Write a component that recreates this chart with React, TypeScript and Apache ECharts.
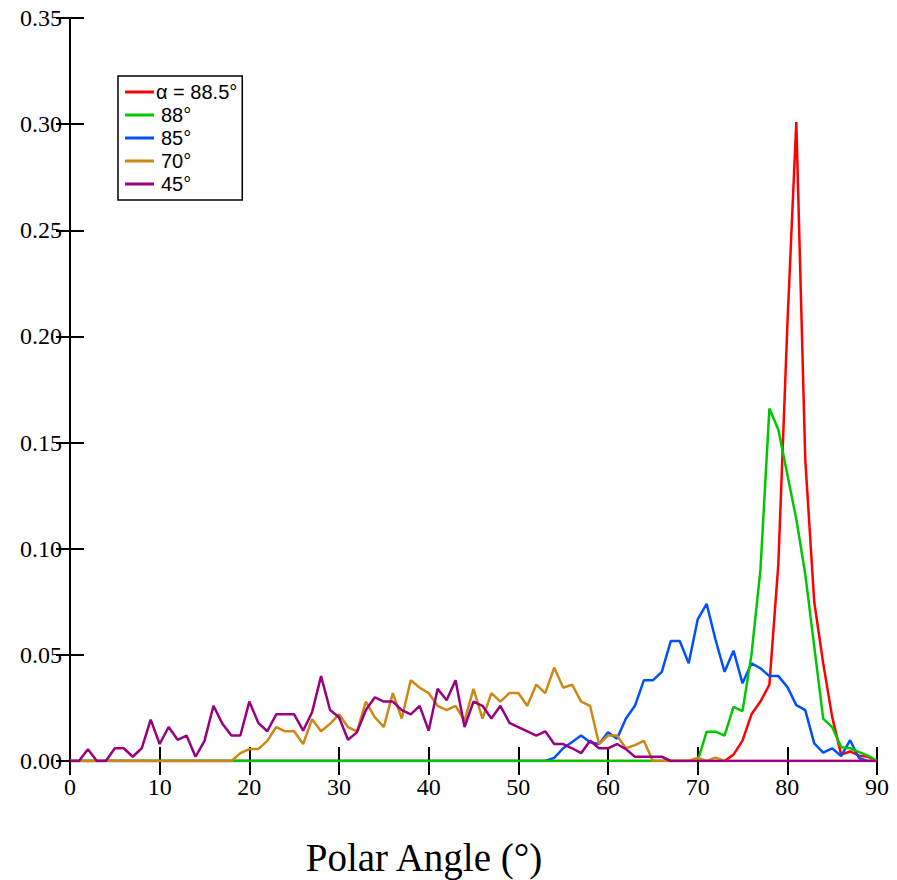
import React, { useEffect, useRef } from "react";
import * as echarts from "echarts";

const angles = [
  0, 1, 2, 3, 4, 5, 6, 7, 8, 9, 10, 11, 12, 13, 14, 15, 16, 17, 18, 19,
  20, 21, 22, 23, 24, 25, 26, 27, 28, 29, 30, 31, 32, 33, 34, 35, 36, 37, 38, 39,
  40, 41, 42, 43, 44, 45, 46, 47, 48, 49, 50, 51, 52, 53, 54, 55, 56, 57, 58, 59,
  60, 61, 62, 63, 64, 65, 66, 67, 68, 69, 70, 71, 72, 73, 74, 75, 76, 77, 78, 79,
  80, 81, 82, 83, 84, 85, 86, 87, 88, 89, 90,
];

const seriesNames = ["α = 88.5°", "88°", "85°", "70°", "45°"];
const seriesColors = ["#ff0000", "#00c800", "#0050ff", "#cc8814", "#990080"];

// alpha = 88.5
const red = [
  0, 0, 0, 0, 0, 0, 0, 0, 0, 0, 0, 0, 0, 0, 0, 0, 0, 0, 0, 0,
  0, 0, 0, 0, 0, 0, 0, 0, 0, 0, 0, 0, 0, 0, 0, 0, 0, 0, 0, 0,
  0, 0, 0, 0, 0, 0, 0, 0, 0, 0, 0, 0, 0, 0, 0, 0, 0, 0, 0, 0,
  0, 0, 0, 0, 0, 0, 0, 0, 0, 0, 0, 0, 0, 0, 0.003, 0.0096, 0.022, 0.028, 0.036, 0.093,
  0.205, 0.301, 0.142, 0.075, 0.046, 0.0208, 0.003, 0.0045, 0.0025, 0.002, 0,
];

// 88
const green = [
  0, 0, 0, 0, 0, 0, 0, 0, 0, 0, 0, 0, 0, 0, 0, 0, 0, 0, 0, 0,
  0, 0, 0, 0, 0, 0, 0, 0, 0, 0, 0, 0, 0, 0, 0, 0, 0, 0, 0, 0,
  0, 0, 0, 0, 0, 0, 0, 0, 0, 0, 0, 0, 0, 0, 0, 0, 0, 0, 0, 0,
  0, 0, 0, 0, 0, 0, 0, 0, 0, 0, 0, 0.0138, 0.0138, 0.012, 0.0255, 0.0235, 0.05, 0.09, 0.166, 0.156,
  0.135, 0.114, 0.088, 0.054, 0.02, 0.016, 0.0065, 0.006, 0.0042, 0.0025, 0,
];

// 85
const blue = [
  0, 0, 0, 0, 0, 0, 0, 0, 0, 0, 0, 0, 0, 0, 0, 0, 0, 0, 0, 0,
  0, 0, 0, 0, 0, 0, 0, 0, 0, 0, 0, 0, 0, 0, 0, 0, 0, 0, 0, 0,
  0, 0, 0, 0, 0, 0, 0, 0, 0, 0, 0, 0, 0, 0, 0.0015, 0.006, 0.009, 0.012, 0.0088, 0.008,
  0.0135, 0.0105, 0.02, 0.026, 0.038, 0.038, 0.042, 0.0565, 0.0565, 0.046, 0.0667, 0.074, 0.057, 0.042, 0.052, 0.0366, 0.046, 0.0437, 0.04, 0.04,
  0.0349, 0.0263, 0.024, 0.0083, 0.004, 0.006, 0.0023, 0.0098, 0.0013, 0, 0,
];

// 70
const orange = [
  0, 0, 0, 0, 0, 0, 0, 0, 0, 0, 0, 0, 0, 0, 0, 0, 0, 0, 0, 0.0037,
  0.0056, 0.0056, 0.0095, 0.016, 0.014, 0.014, 0.008, 0.0197, 0.014, 0.0175, 0.022, 0.016, 0.014, 0.028, 0.0206, 0.016, 0.032, 0.02, 0.038, 0.0345,
  0.032, 0.026, 0.024, 0.026, 0.019, 0.034, 0.02, 0.032, 0.028, 0.032, 0.032, 0.026, 0.036, 0.032, 0.044, 0.0345, 0.036, 0.028, 0.026, 0.008,
  0.012, 0.012, 0.006, 0.0075, 0.0095, 0, 0, 0, 0, 0, 0.0016, 0, 0.0016, 0, 0, 0, 0, 0, 0, 0,
  0, 0, 0, 0, 0, 0, 0, 0, 0, 0, 0,
];

// 45
const purple = [
  0, 0, 0.0055, 0, 0, 0.006, 0.006, 0.002, 0.006, 0.0195, 0.008, 0.016, 0.01, 0.012, 0.002, 0.0095, 0.026, 0.0175, 0.012, 0.012,
  0.028, 0.018, 0.014, 0.022, 0.022, 0.022, 0.0143, 0.023, 0.04, 0.024, 0.0206, 0.01, 0.0135, 0.024, 0.03, 0.028, 0.028, 0.024, 0.022, 0.026,
  0.0143, 0.034, 0.0286, 0.038, 0.016, 0.028, 0.026, 0.02, 0.026, 0.018, 0.016, 0.014, 0.012, 0.014, 0.008, 0.008, 0.006, 0.0037, 0.0095, 0.006,
  0.006, 0.008, 0.0056, 0.002, 0.002, 0.002, 0.002, 0, 0, 0, 0, 0, 0, 0, 0, 0, 0, 0, 0, 0,
  0, 0, 0, 0, 0, 0, 0, 0, 0, 0, 0,
];

const xTicks = { min: 0, max: 90, interval: 10 };
const yTicks = { min: 0, max: 0.35, interval: 0.05 };

const seriesValues = [red, green, blue, orange, purple];
// drawing order (later on top)
const drawOrder = [0, 2, 1, 3, 4];

export default function App() {
  const ref = useRef<HTMLDivElement>(null);
  useEffect(() => {
    if (!ref.current) return;
    const chart = echarts.init(ref.current, null, { renderer: "svg" });
    const serif = "Liberation Serif";
    const sans = "Liberation Sans";
    const axisCommon = {
      axisLine: { show: true, lineStyle: { color: "#000", width: 2 } },
      axisTick: { show: true, inside: true, length: 14, lineStyle: { color: "#000", width: 2 } },
      splitLine: { show: false },
    };
    chart.setOption({
      animation: false,
      backgroundColor: "#fff",
      grid: { left: 70, right: 20, top: 18, bottom: 119, containLabel: false },
      legend: {
        data: seriesNames,
        orient: "vertical",
        left: 118,
        top: 76,
        icon: "rect",
        itemWidth: 29,
        itemHeight: 3,
        itemGap: 3,
        padding: [6, 5, 6, 7],
        borderColor: "#000",
        borderWidth: 1.5,
        backgroundColor: "#fff",
        textStyle: {
          color: "#000",
          fontSize: 20,
          fontFamily: sans,
          padding: [0, 0, 0, -3],
          rich: { i: { fontSize: 20, fontFamily: sans, color: "#000", padding: [0, 0, 0, 5] } },
        },
        formatter: (name: string) => (name === seriesNames[0] ? name : "{i|" + name + "}"),
        selectedMode: false,
      },
      xAxis: [
        {
          type: "value",
          ...xTicks,
          position: "bottom",
          ...axisCommon,
          axisLabel: { color: "#000", fontSize: 24, fontFamily: serif, margin: 14 },
        },
        {
          type: "value",
          ...xTicks,
          position: "top",
          ...axisCommon,
          axisLabel: { show: false },
        },
      ],
      yAxis: [
        {
          type: "value",
          ...yTicks,
          position: "left",
          ...axisCommon,
          axisLabel: {
            color: "#000",
            fontSize: 24,
            fontFamily: serif,
            margin: 8,
            formatter: (v: number) => v.toFixed(2),
          },
        },
        {
          type: "value",
          ...yTicks,
          position: "right",
          ...axisCommon,
          axisLabel: { show: false },
        },
      ],
      graphic: [
        {
          type: "text",
          x: 424,
          y: 857,
          style: {
            text: "Polar Angle (°)",
            fill: "#000",
            fontSize: 39,
            fontFamily: serif,
            textAlign: "center",
            textVerticalAlign: "middle",
          },
        },
      ],
      series: drawOrder.map((i, pos) => ({
        name: seriesNames[i],
        type: "line",
        xAxisIndex: 0,
        yAxisIndex: 0,
        showSymbol: false,
        symbol: "none",
        color: seriesColors[i],
        lineStyle: { color: seriesColors[i], width: 2.5 },
        data: angles.map((a, k) => [a, seriesValues[i][k]]),
        z: 2 + pos,
      })),
    });
    return () => chart.dispose();
  }, []);
  return (
    <div
      ref={ref}
      style={{ position: "fixed", left: 0, top: 0, width: 897, height: 880, background: "#fff" }}
    />
  );
}
